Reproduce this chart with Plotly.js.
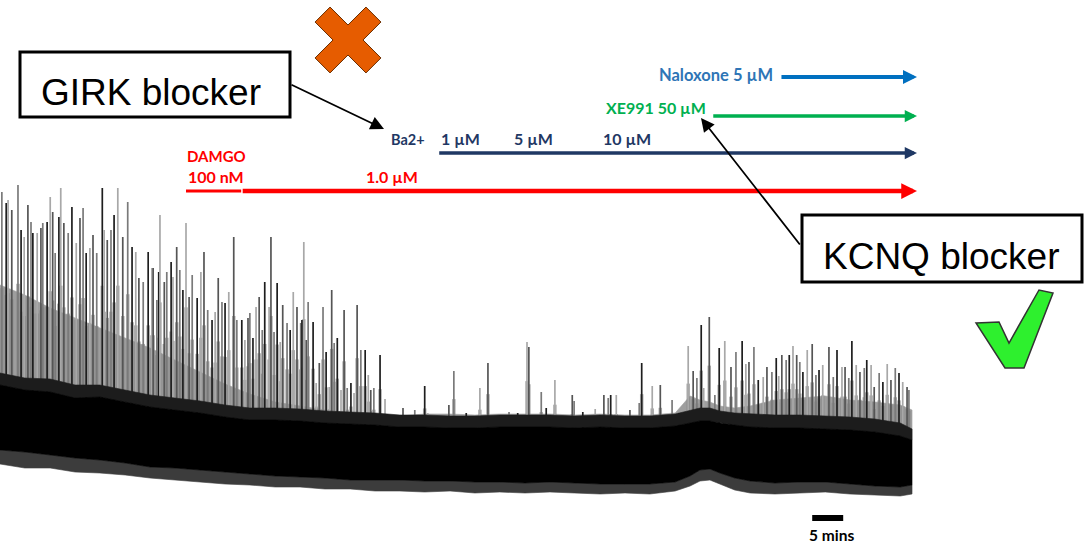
<!DOCTYPE html>
<html>
<head>
<meta charset="utf-8">
<script src="https://cdn.plot.ly/plotly-3.0.1.min.js"></script>
<style>html,body{margin:0;padding:0;background:#fff;}#chart{width:1086px;height:546px;}</style>
</head>
<body>
<div id="chart"></div>
<script>
// ---------------- DATA (time in minutes, amplitude in arbitrary units) ----------------
// envelope sample times
const envT = [0,4.0,8.1,12.1,16.1,20.2,24.2,28.2,32.3,36.3,40.3,44.4,48.4,52.4,56.5,60.5,64.5,68.5,72.6,76.6,80.6,84.7,88.7,92.7,96.8,100.8,104.8,108.9,111.3,112.9,114.5,116.1,118.5,121.0,125.0,129.0,133.1,137.1,141.1,145.2,147.1];
// dense spike cloud (upper edge)
const cloudTop = [215,205,192,182,172,162,152,140,128,116,106,98,94,90,87,86,84,86,86,85,86,86,86,85,86,85,85,87,104,100,98,94,92,94,100,102,104,100,98,95,90];
// noisy fringe just above the solid band
const upperFringe = [127,122,121,115,115,110,105,102,99,95,92,92,91,89,88,87,85,85,84,84,85,85,85,84,85,84,84,86,90,92,92,89,87,86,85,85,84,83,81,77,71];
// solid black band
const bandTop = [115,110,108,102,103,98,93,90,87,83,80,80,79,77,76,75,73,73,72,72,73,73,73,72,73,72,72,74,77,79,79,77,75,73,72,72,71,70,68,64,60];
const bandBottom = [50,48,45,42,40,37,33,32,30,28,26,24,23,22,20,20,20,19,19,18,18,17,18,17,16,16,16,18,24,30,31,27,22,19,17,18,18,16,14,13,15];
// noisy fringe below the band
const lowerFringe = [36,32,32,28,27,25,22,20,18,16,15,13,13,11,11,9,9,8,9,7,8,7,8,7,6,7,6,9,14,19,20,16,10,7,6,7,8,6,5,4,6];

// individual spikes: time (min) and peak amplitude
const spikeT = [0.3,1.0,1.3,1.9,2.9,3.4,3.9,4.5,5.0,5.3,6.0,6.6,6.9,7.6,8.1,8.5,8.9,9.5,9.8,10.3,11.0,11.6,12.3,12.9,13.4,13.9,14.5,15.0,15.6,16.5,16.8,17.3,17.9,18.4,19.0,19.8,20.6,21.3,21.9,22.4,23.1,23.9,24.5,24.7,25.3,25.6,25.8,26.5,26.9,27.6,27.9,28.5,29.0,29.5,30.0,30.5,31.0,31.8,32.4,32.9,33.5,34.2,34.7,35.2,35.8,36.3,36.9,37.7,38.2,39.0,39.5,40.0,40.3,40.8,41.3,41.8,42.3,42.7,43.4,43.7,44.2,44.7,45.2,45.6,46.3,46.8,47.3,47.9,48.5,48.7,49.0,49.4,49.7,50.5,51.0,51.5,52.1,52.6,53.1,53.5,53.9,54.4,55.0,55.5,56.0,56.6,57.1,57.6,58.2,58.9,59.4,59.8,60.3,61.3,62.1,65.0,66.9,68.5,69.0,72.4,73.2,75.2,77.4,78.7,82.1,83.5,85.0,85.3,87.3,88.1,89.5,92.3,92.6,94.0,96.0,97.4,98.1,98.5,99.4,101.6,103.1,103.5,105.2,106.5,108.4,109.5,111.0,111.8,112.4,113.1,113.5,114.4,115.3,116.0,116.9,117.9,118.7,119.7,120.3,120.8,121.6,122.3,123.1,123.7,124.5,125.2,125.6,126.1,126.8,127.3,127.9,128.5,129.0,129.5,130.2,131.0,131.6,132.1,132.7,133.7,134.4,135.0,135.8,136.3,136.9,137.4,138.1,138.7,139.4,139.8,140.5,141.0,141.8,142.4,143.1,143.7,144.4,145.0,145.6,146.3,146.6];
const spikePeak = [308,297,300,290,315,270,263,295,278,267,267,272,277,278,303,288,247,283,312,277,267,293,257,282,292,247,252,265,247,312,270,260,270,285,312,263,298,253,248,222,218,248,232,232,200,228,285,218,228,238,223,253,230,210,277,203,225,202,228,248,190,180,188,222,198,197,208,263,180,180,160,182,187,162,193,203,170,218,193,263,168,217,158,195,177,170,208,193,177,180,258,160,198,178,117,137,193,148,113,210,157,162,110,190,112,117,107,195,150,150,125,110,112,145,101,92,90,114,87,95,129,87,112,137,88,87,158,153,108,92,120,105,99,88,91,105,102,105,105,90,97,137,114,115,100,87,154,129,122,175,112,183,105,152,159,133,148,159,136,138,153,120,123,133,128,142,124,145,140,145,154,145,138,128,150,156,125,130,135,153,123,150,133,133,122,159,135,128,132,140,135,113,127,118,136,120,132,127,118,113,110];

// drug application times (min)
const damgoT = [30.0, 38.9];          // 100 nM, 1.0 µM
const bariumT = [70.6, 78.5, 94.7];   // Ba2+ 1, 5, 10 µM
const xe991T = 114.8;                 // XE991 50 µM
const naloxoneT = 125.8;              // Naloxone 5 µM
const washEndT = 147.9;               // end of the application arrows
const scaleBarMin = 5;                // scale bar length (min)
const scaleBarStartT = 131.0;

// ---------------- DRAWING ----------------
const W = 1086, H = 546;
const px = x => x / W;
const py = y => 1 - y / H;
const SPIKE_BASE = 55;

function band(top, bottom, color, opacity) {
  return {
    x: envT.concat(envT.slice().reverse()),
    y: top.concat(bottom.slice().reverse()),
    mode: 'lines', fill: 'toself', fillcolor: color, opacity: opacity || 1,
    line: {width: 0.6, color: color}, hoverinfo: 'skip', type: 'scatter'
  };
}

const traces = [];
traces.push(band(cloudTop, bandTop, '#8e8e8e', 0.85));

// grey burst around each spike (lower part of the spike, drawn wider and lighter)
(function () {
  const xs = [], ys = [];
  spikeT.forEach((t, i) => {
    xs.push(t, t, null);
    ys.push(SPIKE_BASE, SPIKE_BASE + 0.62 * (spikePeak[i] - SPIKE_BASE), null);
  });
  traces.push({x: xs, y: ys, mode: 'lines', type: 'scatter', opacity: 0.7,
    line: {color: '#8a8a8a', width: 3.5}, hoverinfo: 'skip'});
})();

const spikeColors = ['#7a7a7a', '#1e1e1e', '#a8a8a8', '#555555'];
spikeColors.forEach((c, g) => {
  const xs = [], ys = [];
  spikeT.forEach((t, i) => {
    if (i % 4 !== g) return;
    xs.push(t, t, null);
    ys.push(SPIKE_BASE, spikePeak[i], null);
  });
  traces.push({x: xs, y: ys, mode: 'lines', type: 'scatter', line: {color: c, width: 1.7}, hoverinfo: 'skip'});
});

traces.push(band(bandBottom, lowerFringe, '#3c3c3c'));
traces.push(band(upperFringe, bandTop, '#1c1c1c'));
traces.push(band(bandTop, bandBottom, '#000000'));

const lblFont = 'Lato, "Open Sans", sans-serif';
function label(text, x, y, color, size) {
  return {text: '<b>' + text + '</b>', x: px(x), y: py(y), xref: 'paper', yref: 'paper',
    xanchor: 'left', yanchor: 'middle', showarrow: false,
    font: {family: lblFont, size: size || 16, color: color}};
}
function drugArrow(t0, y, color, w) {
  return {text: '', x: washEndT, y: py(y), xref: 'x', yref: 'paper',
    ax: t0, ay: 0, axref: 'x', ayref: 'pixel', showarrow: true,
    arrowhead: 2, arrowsize: 0.7, arrowwidth: w, arrowcolor: color, standoff: 0, startstandoff: 0};
}

const navy = '#1f3864', red = '#ff0000', green = '#00b050', blue = '#0070c0';

const annotations = [
  drugArrow(damgoT[1], 191, red, 4.5),
  drugArrow(bariumT[0], 153, navy, 3.5),
  drugArrow(xe991T, 116, green, 3.5),
  drugArrow(naloxoneT, 77, blue, 4),
  label('DAMGO', 185, 156, red, 15),
  label('100 nM', 186, 177, red),
  label('1.0 µM', 364, 177, red),
  label('Ba2+', 389, 139, navy, 14.5),
  label('1 µM', 439, 138, navy),
  label('5 µM', 512, 138, navy),
  label('10 µM', 601, 138, navy),
  label('XE991 50 µM', 604, 108, green, 16),
  label('Naloxone 5 µM', 657, 75, '#2e75b6', 16.5),
  {text: '<b>5 mins</b>', x: px(831), y: py(535), xref: 'paper', yref: 'paper', xanchor: 'center', yanchor: 'middle',
    showarrow: false, font: {family: lblFont, size: 15.5, color: '#000'}},
  {text: 'GIRK blocker', x: px(151), y: py(92), xref: 'paper', yref: 'paper', xanchor: 'center', yanchor: 'middle',
    showarrow: false, font: {family: '"Liberation Sans", Arial, sans-serif', size: 37, color: '#000'}},
  {text: 'KCNQ blocker', x: px(941), y: py(256), xref: 'paper', yref: 'paper', xanchor: 'center', yanchor: 'middle',
    showarrow: false, font: {family: '"Liberation Sans", Arial, sans-serif', size: 37, color: '#000'}},
  {text: '', x: px(384), y: py(129), xref: 'paper', yref: 'paper', ax: 290 - 384, ay: 84 - 129,
    showarrow: true, arrowhead: 2, arrowsize: 1.5, arrowwidth: 1.8, arrowcolor: '#000', standoff: 0},
  {text: '', x: px(701), y: py(118), xref: 'paper', yref: 'paper', ax: 801 - 701, ay: 246 - 118,
    showarrow: true, arrowhead: 2, arrowsize: 1.5, arrowwidth: 1.8, arrowcolor: '#000', standoff: 0}
];

function polyPath(pts) {
  return 'M' + pts.map(p => px(p[0]).toFixed(5) + ',' + py(p[1]).toFixed(5)).join('L') + 'Z';
}
// orange cross
const cx = 348, cy = 40, w = 10.6, L = 36, r = Math.SQRT1_2;
const plus = [[w,L],[w,w],[L,w],[L,-w],[w,-w],[w,-L],[-w,-L],[-w,-w],[-L,-w],[-L,w],[-w,w],[-w,L]];
const crossPts = plus.map(p => [cx + (p[0] - p[1]) * r, cy + (p[0] + p[1]) * r]);
const checkPts = [[976,323],[999,322],[1009,343],[1039,290],[1053,293],[1024,368],[1005,368]];

const shapes = [
  {type: 'line', xref: 'x', yref: 'paper', x0: damgoT[0], x1: damgoT[1], y0: py(191), y1: py(191), line: {color: red, width: 3}},
  {type: 'rect', xref: 'x', yref: 'paper', x0: scaleBarStartT, x1: scaleBarStartT + scaleBarMin, y0: py(521), y1: py(515), fillcolor: '#000', line: {width: 0}},
  {type: 'rect', xref: 'paper', yref: 'paper', x0: px(20), x1: px(290), y0: py(117), y1: py(52), line: {color: '#000', width: 3}, fillcolor: 'rgba(0,0,0,0)'},
  {type: 'rect', xref: 'paper', yref: 'paper', x0: px(802), x1: px(1082), y0: py(282), y1: py(215), line: {color: '#000', width: 3}, fillcolor: 'rgba(0,0,0,0)'},
  {type: 'path', xref: 'paper', yref: 'paper', path: polyPath(crossPts), fillcolor: '#e65c00', line: {color: '#6b2e00', width: 1}},
  {type: 'path', xref: 'paper', yref: 'paper', path: polyPath(checkPts), fillcolor: '#2ef02e', line: {color: '#333', width: 1.5}}
];

const layout = {
  width: W, height: H,
  margin: {l: 0, r: 0, t: 0, b: 0},
  paper_bgcolor: '#fff', plot_bgcolor: '#fff',
  showlegend: false,
  xaxis: {range: [0, W / 6.2], visible: false, fixedrange: true},
  yaxis: {range: [-46, 500], visible: false, fixedrange: true},
  shapes: shapes,
  annotations: annotations
};

Plotly.newPlot('chart', traces, layout, {staticPlot: true, displayModeBar: false});
</script>
</body>
</html>
